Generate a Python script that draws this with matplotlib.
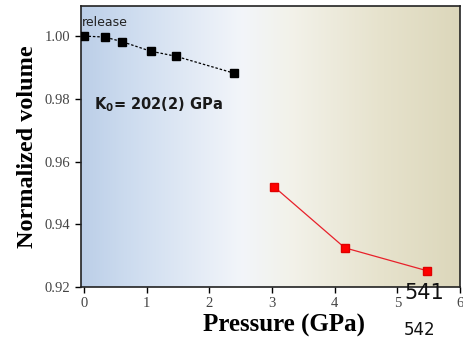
import numpy as np
import matplotlib
matplotlib.use("Agg")
import matplotlib.pyplot as plt
from matplotlib.colors import LinearSegmentedColormap

release_p = [0.0, 0.33, 0.61, 1.06, 1.46, 2.39]
release_v = [1.000, 0.9997, 0.9982, 0.9952, 0.9936, 0.9882]
comp_p = [3.03, 4.16, 5.47]
comp_v = [0.9520, 0.9325, 0.9252]
xticks = [0, 1, 2, 3, 4, 5, 6]
yticks = [0.92, 0.94, 0.96, 0.98, 1.00]

fig = plt.figure(figsize=(4.64, 3.40), dpi=100)
ax = fig.add_axes([81/464, 1-287/340, (460-81)/464, (287-6)/340])
xmin, xmax = -0.05, 6.0
ymin, ymax = 0.92, 1.0096
ax.set_xlim(xmin, xmax)
ax.set_ylim(ymin, ymax)

cmap = LinearSegmentedColormap.from_list(
    "bg", [(0.0, "#bccfe8"), (0.15, "#d0def0"), (0.42, "#f2f5fa"),
           (0.55, "#f3f2ea"), (0.8, "#e6e2cc"), (1.0, "#dcd7bb")])
grad = np.linspace(0, 1, 256).reshape(1, -1)
ax.imshow(grad, cmap=cmap, aspect="auto", extent=[xmin, xmax, ymin, ymax],
          origin="lower", zorder=0)

ax.plot(release_p, release_v, ls=(0, (2, 1.5)), color="black", lw=0.9,
        marker="s", ms=6, mfc="black", mec="black", zorder=3)
ax.plot(comp_p, comp_v, ls="-", color="#e8202a", lw=0.9,
        marker="s", ms=6, mfc="#ff0000", mec="#e00000", zorder=3)

ax.text(-0.03, 1.0022, "release", fontsize=9, family="DejaVu Sans",
        color="#222222", ha="left", va="bottom")
ax.text(0.15, 0.978, r"K$_\mathbf{0}$= 202(2) GPa", fontsize=10.5,
        family="DejaVu Sans", fontweight="bold", color="#1a1a1a",
        ha="left", va="center")

ax.set_xticks(xticks)
ax.set_xticklabels([str(t) for t in xticks], family="Liberation Serif",
                   fontsize=10.5, color="#444444")
ax.set_yticks(yticks)
ax.set_yticklabels(["%.2f" % t for t in yticks], family="Liberation Serif",
                   fontsize=10.5, color="#444444")
ax.tick_params(direction="out", length=4, width=1)
ax.tick_params(axis="x", pad=3)

ax.set_xlabel("Pressure (GPa)", family="Liberation Serif", fontweight="bold",
              fontsize=18, labelpad=1)
ax.xaxis.set_label_coords(0.536, -0.095)
ax.set_ylabel("Normalized volume", family="Liberation Serif",
              fontweight="bold", fontsize=17.5, labelpad=5)
for s in ax.spines.values():
    s.set_linewidth(1.2)
    s.set_color("#222222")

fig.text(404/464, 1-293/340, "541", fontsize=15, family="DejaVu Sans",
         color="#111111", ha="left", va="center")
fig.text(404/464, 1-339/340, "542", fontsize=12, family="DejaVu Sans",
         color="#111111", ha="left", va="bottom")

fig.savefig("out.png", dpi=100)
